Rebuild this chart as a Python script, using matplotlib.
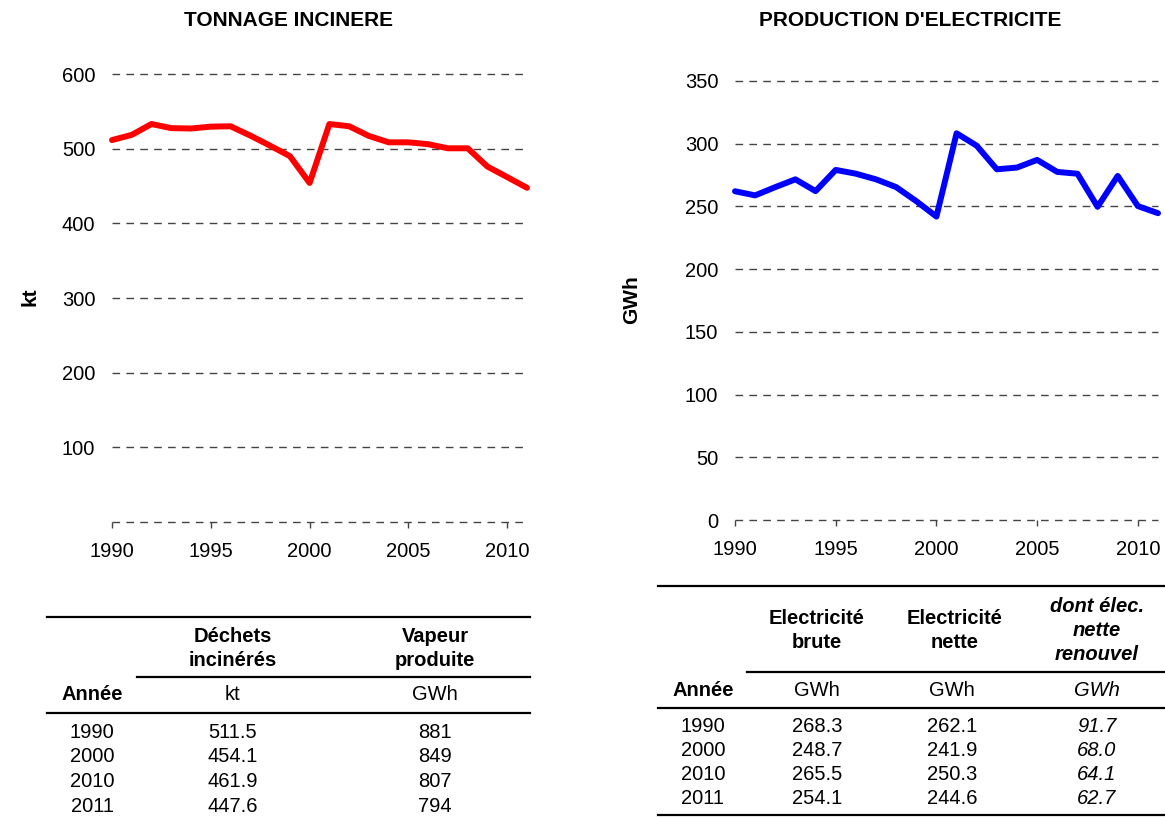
import matplotlib.pyplot as plt
from matplotlib.lines import Line2D

# donnees
annees = list(range(1990, 2012))
tonnage = [511.5, 518.5, 533, 527.5, 527, 529.5, 530, 517.5, 504, 490, 454.1,
           533, 530, 517, 508.5, 508.5, 506, 500.5, 500.5, 476, 461.9, 447.6]
electricite = [262.1, 258.8, 265.4, 271.6, 262.2, 279.1, 276.1, 271.6, 265.4, 254.2, 241.9,
               308.3, 298.4, 279.6, 281, 287.1, 277.5, 276.1, 249.7, 274.3, 250.3, 244.6]

# tableaux
tab_annees = ["1990", "2000", "2010", "2011"]
dechets = ["511.5", "454.1", "461.9", "447.6"]
vapeur = ["881", "849", "807", "794"]
elec_brute = ["268.3", "248.7", "265.5", "254.1"]
elec_nette = ["262.1", "241.9", "250.3", "244.6"]
elec_renouv = ["91.7", "68.0", "64.1", "62.7"]

plt.rcParams["font.family"] = ["Liberation Sans", "DejaVu Sans"]

W, H = 1165, 818
FS = 14.5


def fx(x):
    return x / W


def fy(y):
    return 1 - y / H


def style_axe(ax, ymax, pas, label_zero):
    ax.set_xlim(1990, 2011)
    ax.set_ylim(0, ymax)
    for s in ax.spines.values():
        s.set_visible(False)
    ticks = list(range(0, ymax + 1, pas))
    ax.set_yticks(ticks)
    labels = [str(t) for t in ticks]
    if not label_zero:
        labels[0] = ""
    ax.set_yticklabels(labels)
    ax.set_xticks([1990, 1995, 2000, 2005, 2010])
    ax.tick_params(axis="y", length=0, pad=12, labelsize=FS)
    ax.tick_params(axis="x", length=4.5, width=1, color="#444444", direction="out",
                   pad=10, labelsize=FS)
    ax.yaxis.grid(True, color="#444444", linewidth=1, dashes=(5.5, 4.5))
    for g in ax.get_ygridlines():
        g.set_clip_on(False)
    ax.set_axisbelow(True)


fig = plt.figure(figsize=(W / 100, H / 100), dpi=100)

ax1 = fig.add_axes([fx(112), fy(522), fx(527) - fx(112), fy(74) - fy(522)])
style_axe(ax1, 600, 100, False)
ax1.plot(annees, tonnage, color="#FF0000", linewidth=4.3, solid_capstyle="round", clip_on=False)

ax2 = fig.add_axes([fx(735), fy(520), fx(1158) - fx(735), fy(81) - fy(520)])
style_axe(ax2, 350, 50, True)
ax2.plot(annees, electricite, color="#0000FF", linewidth=4.3, solid_capstyle="round", clip_on=False)

# titres et axes
fig.text(fx(288), fy(21), "TONNAGE INCINERE", ha="center", va="center",
         fontsize=15, fontweight="bold")
fig.text(fx(910), fy(21), "PRODUCTION D'ELECTRICITE", ha="center", va="center",
         fontsize=15, fontweight="bold")
fig.text(fx(30), fy(297), "kt", rotation=90, ha="center", va="center",
         fontsize=15, fontweight="bold")
fig.text(fx(632), fy(300), "GWh", rotation=90, ha="center", va="center",
         fontsize=15, fontweight="bold")


def trait(x0, x1, y):
    fig.add_artist(Line2D([fx(x0), fx(x1)], [fy(y), fy(y)], color="black",
                          linewidth=1.6, transform=fig.transFigure))


def texte(x, y, s, **kw):
    fig.text(fx(x), fy(y), s, ha="center", va="center", fontsize=FS, **kw)


# tableau gauche
trait(47, 530, 617)
trait(137, 530, 677)
trait(47, 530, 713)
texte(233, 636, "Déchets", fontweight="bold")
texte(233, 661, "incinérés", fontweight="bold")
texte(435, 636, "Vapeur", fontweight="bold")
texte(435, 661, "produite", fontweight="bold")
texte(92, 694, "Année", fontweight="bold")
texte(233, 694, "kt")
texte(435, 694, "GWh")
for i in range(len(tab_annees)):
    y = 732 + i * 24.7
    texte(92, y, tab_annees[i])
    texte(233, y, dechets[i])
    texte(435, y, vapeur[i])

# tableau droit
trait(658, 1165, 586)
trait(747, 1165, 672)
trait(658, 1165, 708)
trait(658, 1165, 815)
texte(817, 618, "Electricité", fontweight="bold")
texte(817, 642, "brute", fontweight="bold")
texte(955, 618, "Electricité", fontweight="bold")
texte(955, 642, "nette", fontweight="bold")
texte(1097, 606, "dont élec.", fontweight="bold", style="italic")
texte(1097, 630, "nette", fontweight="bold", style="italic")
texte(1097, 654, "renouvel", fontweight="bold", style="italic")
texte(703, 690, "Année", fontweight="bold")
texte(817, 690, "GWh")
texte(952, 690, "GWh")
texte(1097, 690, "GWh", style="italic")
for i in range(len(tab_annees)):
    y = 727 + i * 24
    texte(703, y, tab_annees[i])
    texte(817, y, elec_brute[i])
    texte(952, y, elec_nette[i])
    texte(1097, y, elec_renouv[i], style="italic")

fig.savefig("out.png", dpi=100)
